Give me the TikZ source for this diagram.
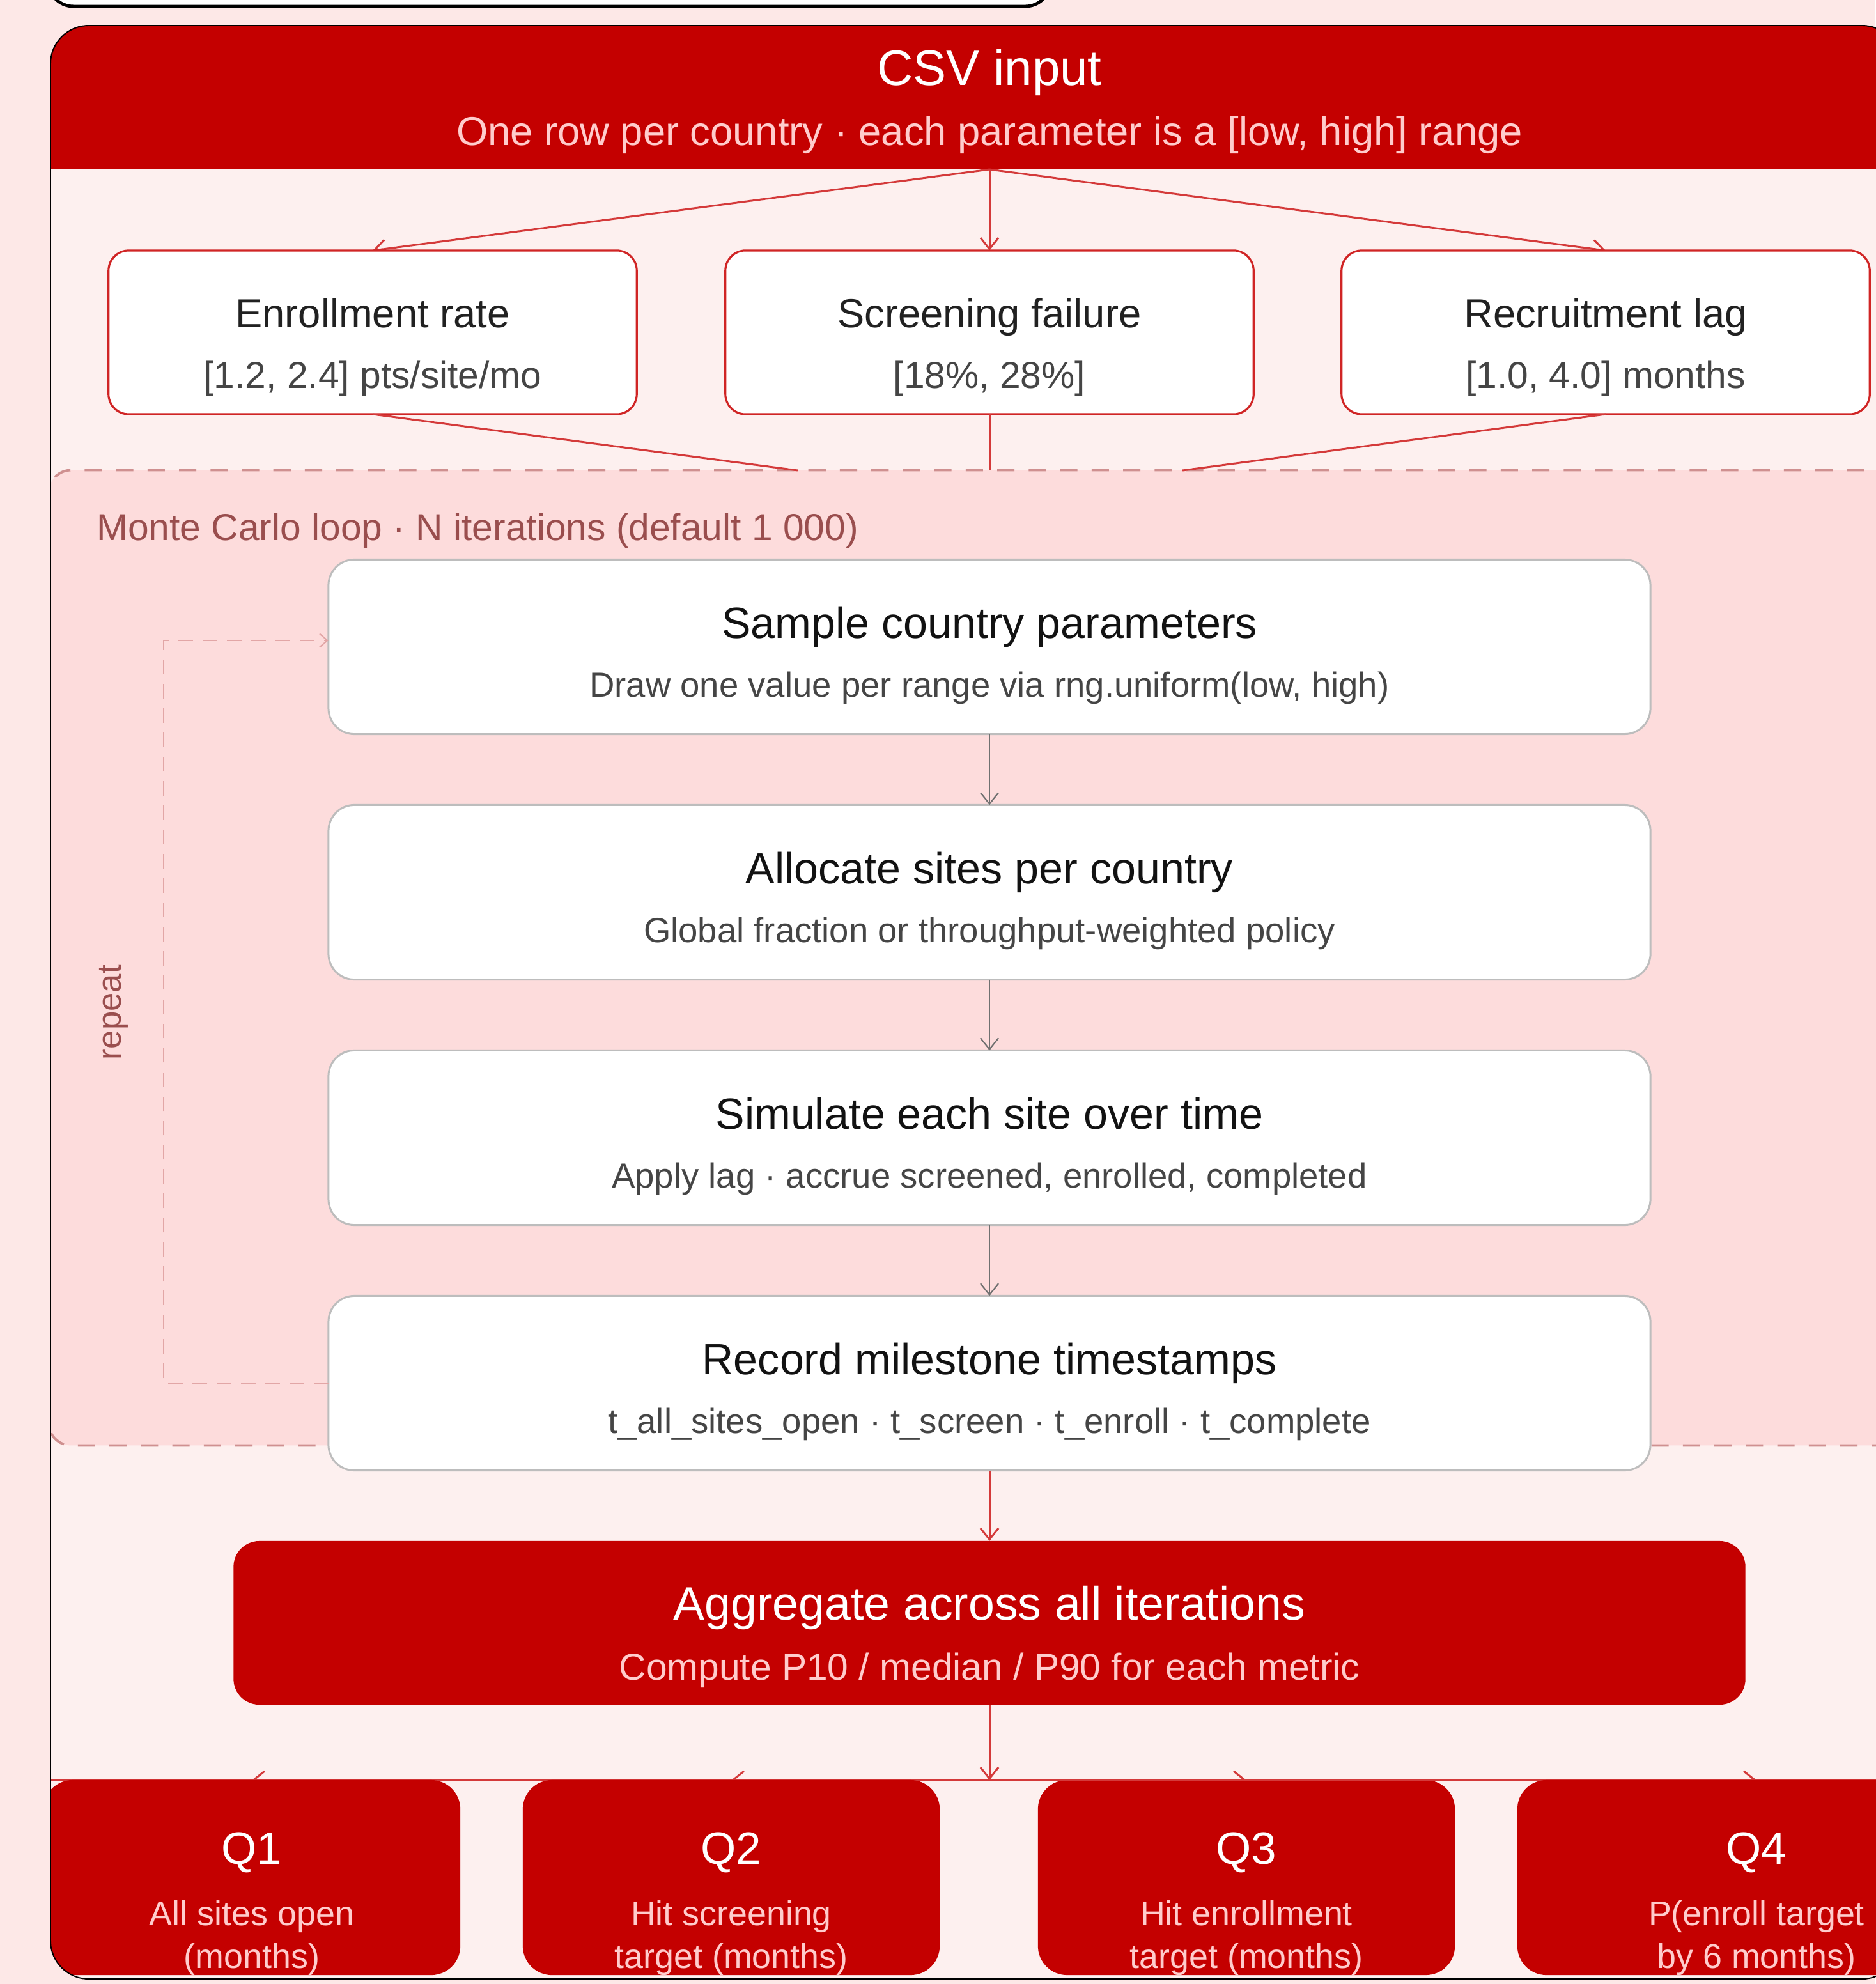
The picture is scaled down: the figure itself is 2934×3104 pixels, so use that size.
\documentclass[tikz,border=0pt]{standalone}
\usepackage{fontspec}
\setmainfont{Liberation Sans}
\usetikzlibrary{arrows.meta}

\definecolor{pagebg}{HTML}{FDE8E7}
\definecolor{framebg}{HTML}{FDF0EF}
\definecolor{loopbg}{HTML}{FDDCDC}
\definecolor{loopline}{HTML}{CF9090}
\definecolor{looptext}{HTML}{9A4E4E}
\definecolor{repeatpink}{HTML}{E2A6A6}
\definecolor{brandred}{HTML}{C40000}
\definecolor{edgered}{HTML}{D43A3A}
\definecolor{paramline}{HTML}{D02525}
\definecolor{paleink}{HTML}{FFCCCC}
\definecolor{stepline}{HTML}{BDBDBD}
\definecolor{edgegray}{HTML}{707070}

\tikzset{
  redbox/.style={fill=brandred, inner sep=0pt, outer sep=0pt, rounded corners=11.5pt},
  parambox/.style={fill=white, draw=paramline, line width=0.9pt, rounded corners=9pt,
    minimum width=8.26cm, minimum height=2.56cm, inner sep=0pt, outer sep=0pt},
  stepbox/.style={fill=white, draw=stepline, line width=0.85pt, rounded corners=11.5pt,
    minimum width=20.67cm, minimum height=2.73cm, inner sep=0pt, outer sep=0pt},
  loopbox/.style={fill=loopbg, draw=loopline, line width=1.1pt, dash pattern=on 7.7pt off 6.3pt,
    rounded corners=10pt, inner sep=0pt, outer sep=0pt},
  qbox/.style={redbox, rounded corners=13pt, minimum height=3.05cm},
  fanline/.style={draw=edgered, line width=0.85pt},
  redarrow/.style={fanline, -{Straight Barb[length=5pt,width=8pt]}},
  steparrow/.style={draw=edgegray, line width=0.6pt, -{Straight Barb[length=5pt,width=8pt]}},
  repeatline/.style={draw=repeatpink, line width=0.6pt, dash pattern=on 6.5pt off 4.3pt,
    -{Straight Barb[length=3.5pt,width=6pt]}},
  hdtitle/.style={text=white, font=\fontsize{22.2}{26}\selectfont, text height=16.2pt, text depth=0pt},
  hdsub/.style={text=paleink, font=\fontsize{18}{21}\selectfont, text height=13.1pt, text depth=0pt},
  paramtitle/.style={text=black!87, font=\fontsize{18}{21}\selectfont, text height=13.1pt, text depth=0pt},
  paramsub/.style={text=black!73, font=\fontsize{16.7}{20}\selectfont, text height=12.2pt, text depth=0pt},
  steptitle/.style={text=black!93, font=\fontsize{19.4}{23}\selectfont, text height=14.2pt, text depth=0pt},
  stepsub/.style={text=black!73, font=\fontsize{15.5}{18.5}\selectfont, text height=11.3pt, text depth=0pt},
  looplabel/.style={text=looptext, font=\fontsize{16.7}{20}\selectfont, text height=12.2pt, text depth=0pt},
  qtitle/.style={text=white, font=\fontsize{20.2}{24}\selectfont, text height=14.7pt, text depth=0pt},
  qsub/.style={text=paleink, align=center, font=\fontsize{15.3}{18.8}\selectfont},
}

\begin{document}
\begin{tikzpicture}[x=0.01cm, y=-0.01cm]
\useasboundingbox (0,0) rectangle (2934,3104);
\fill[pagebg] (0,0) rectangle (2934,3104);
% edge of the panel above
\draw[fill=white, line width=1.4pt, rounded corners=11pt] (76,-80) rectangle (1643,10);

\begin{scope}
\clip[rounded corners=17pt] (79,40) rectangle (2973,3096);
\fill[framebg] (79,40) rectangle (2973,3096);

% input
\node[redbox, rounded corners=0pt, minimum width=29.4cm, minimum height=2.25cm] (csv) at (1548,152.5) {};
\node[hdtitle] (csv-t) at (1548,105) {CSV input};
\node[hdsub] (csv-s) at (1548,204) {One row per country · each parameter is a [low, high] range};

% loop cluster
\node[loopbox, minimum width=29.23cm, minimum height=15.25cm] (mc) at (1538.5,1498.5) {};
\node[looplabel, anchor=west] (mc-l) at (139,824) {Monte Carlo loop · N iterations (default 1 000)};
\coordinate (in-enr) at (1248,736);
\coordinate (in-scr) at (1548,736);
\coordinate (in-lag) at (1850,736);

% parameter ranges
\foreach \n/\x/\t/\s in {enr/583/Enrollment rate/{[1.2, 2.4] pts/site/mo},
    scr/1548/Screening failure/{[18\%, 28\%]},
    lag/2512/Recruitment lag/{[1.0, 4.0] months}}{
  \coordinate (\n-in) at (\x,392);
  \draw[redarrow] (csv.south) -- (\n-in);
  \node[parambox] (\n) at (\x,520) {};
  \node[paramtitle] (\n-t) at (\x,489) {\t};
  \node[paramsub] (\n-s) at (\x,586) {\s};
  \draw[fanline] (\n.south) -- (in-\n);
}

% one iteration
\foreach \n/\y/\t/\s in {smp/1012/Sample country parameters/{Draw one value per range via rng.uniform(low, high)},
    alc/1396/Allocate sites per country/Global fraction or throughput-weighted policy,
    sim/1780/Simulate each site over time/{Apply lag · accrue screened, enrolled, completed},
    rec/2164/Record milestone timestamps/{t\_all\_sites\_open · t\_screen · t\_enroll · t\_complete}}{
  \node[stepbox] (\n) at (1548,\y) {};
  \node[steptitle] (\n-t) at (1548,\y-38) {\t};
  \node[stepsub] (\n-s) at (1548,\y+59) {\s};
}
\foreach \a/\b in {smp/alc, alc/sim, sim/rec}
  \draw[steparrow] (\a) -- (\b);
\draw[repeatline] (rec.west) -- ++(-258,0) |- ([yshift=0.1cm]smp.west);
\node[looplabel, font=\fontsize{15}{18}\selectfont, text height=11pt, rotate=90] (rep) at (170,1584) {repeat};

% aggregate
\node[redbox, minimum width=23.64cm, minimum height=2.56cm] (agg) at (1548,2539) {};
\node[qtitle, font=\fontsize{20.9}{25}\selectfont, text height=15.3pt] (agg-t) at (1548,2508) {Aggregate across all iterations};
\node[hdsub, font=\fontsize{16.7}{20}\selectfont, text height=12.2pt] (agg-s) at (1548,2607) {Compute P10 / median / P90 for each metric};
\draw[redarrow] (rec) -- (agg);

% outputs
\coordinate (fan) at (1548,2785);
\coordinate (rail-w) at (68,2785);
\coordinate (rail-e) at (3122,2785);
\draw[fanline] (rail-w) -- (rail-e);
\draw[redarrow] (agg) -- (fan);
\foreach \n/\x/\w/\t/\s in {q1/394/6.52/Q1/{All sites open\\(months)},
    q2/1144/6.52/Q2/{Hit screening\\target (months)},
    q3/1950/6.52/Q3/{Hit enrollment\\target (months)},
    q4/2748/7.48/Q4/{P(enroll target\\by 6 months)}}{
  \coordinate (\n-in) at (\x,2785);
  \draw[redarrow] (fan) -- (\n-in);
  \node[qbox, minimum width=\w cm] (\n) at (\x,2937.5) {};
  \node[qtitle] (\n-t) at (\x,2891) {\t};
  \node[qsub] (\n-s) at (\x,3032) {\s};
}
\end{scope}
\draw[line width=0.55pt, rounded corners=17pt] (79,40) rectangle (2973,3096);
\end{tikzpicture}
\end{document}
